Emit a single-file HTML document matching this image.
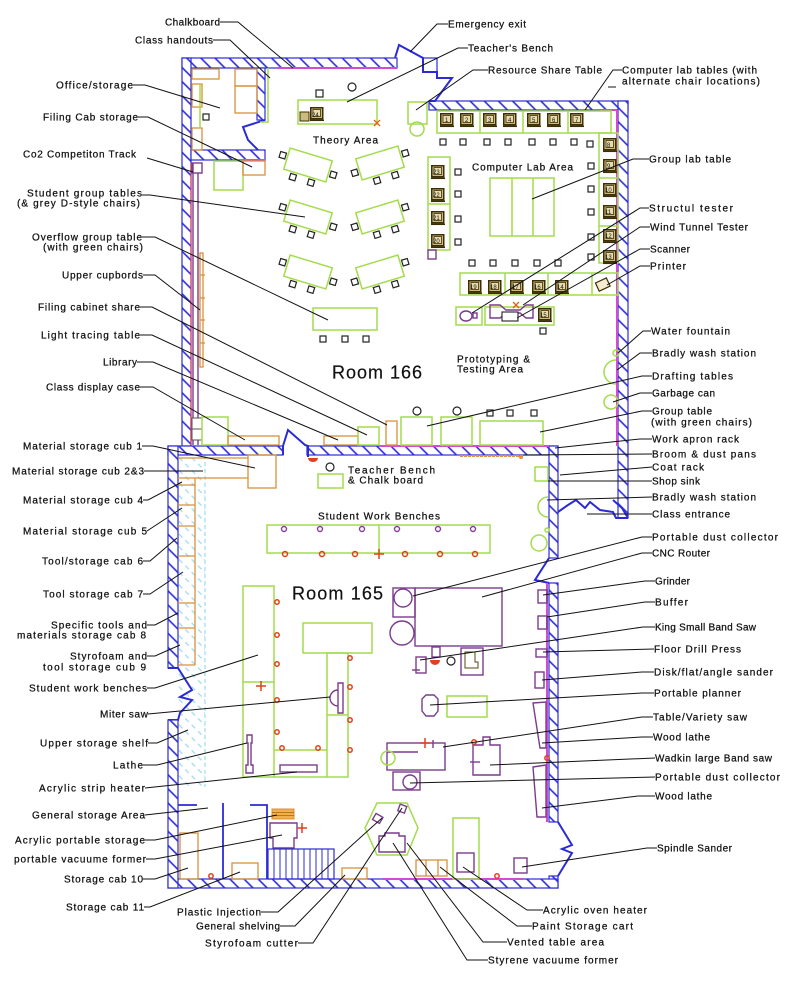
<!DOCTYPE html>
<html><head><meta charset="utf-8"><style>
html,body{margin:0;padding:0;background:#fff;}
svg{display:block;}
text{font-family:"Liberation Sans",sans-serif;font-size:10px;fill:#111;stroke:#111;stroke-width:0.25;}
.g{fill:none;stroke:#a3dc4c;stroke-width:1.5}
.o{fill:none;stroke:#d8913a;stroke-width:1.3}
.p{fill:none;stroke:#7b3c8c;stroke-width:1.4}
.w{fill:url(#h);stroke:#2b2bd6;stroke-width:1.2}
.b{fill:none;stroke:#2b2bd6;stroke-width:2}
.m{fill:none;stroke:#d24bd2;stroke-width:2}
.r{fill:none;stroke:#e0401a;stroke-width:1.5}
.k{fill:none;stroke:#222;stroke-width:1.2}
.ld{fill:none;stroke:#111;stroke-width:1}
.n{font-size:6px;stroke-width:0;}
</style></head><body>
<svg width="800" height="1000" viewBox="0 0 800 1000" xmlns="http://www.w3.org/2000/svg">
<defs>
<pattern id="h" width="10" height="10" patternUnits="userSpaceOnUse" patternTransform="rotate(-45)"><rect width="10" height="10" fill="#fff"/><line x1="1" y1="0" x2="1" y2="10" stroke="#2b2bd6" stroke-width="1.6"/></pattern>
<pattern id="cy" width="9" height="9" patternUnits="userSpaceOnUse" patternTransform="rotate(-45)"><line x1="1" y1="0" x2="1" y2="5" stroke="#9fdcef" stroke-width="1.3"/></pattern>
<g id="pc"><rect x="0.75" y="0.75" width="12" height="11" fill="#cdbb7e" stroke="#3b2f05" stroke-width="1.5"/><rect x="3" y="2.5" width="7.5" height="7" fill="#e8dcae" stroke="#3b2f05" stroke-width="0.8"/><line x1="0" y1="13.3" x2="14" y2="13.3" stroke="#3b2f05" stroke-width="1.5"/></g>
<rect id="ch" width="6" height="6" fill="none" stroke="#222" stroke-width="1.2"/>
</defs>

<rect x="178" y="455" width="27" height="332" fill="url(#cy)"/>
<line x1="205" y1="455" x2="205" y2="787" stroke="#9fdcef" stroke-width="1.2" stroke-dasharray="4,3"/>

<rect class="w" x="182" y="58" width="215" height="10"/>
<rect class="w" x="182" y="58" width="9" height="388"/>
<rect class="w" x="257" y="68" width="8" height="52"/>
<rect class="w" x="191" y="150" width="74" height="10"/>
<polyline class="b" points="265,120 243,127 248,140 258,150"/>
<rect class="w" x="429" y="101" width="199" height="9"/>
<rect class="w" x="618" y="101" width="10" height="417"/>
<rect class="w" x="168" y="446" width="115" height="9"/>
<rect class="w" x="307" y="446" width="251" height="9"/>
<rect class="w" x="549" y="446" width="9" height="112"/>
<polyline class="b" points="549,558 535,580 549,583"/>
<rect class="w" x="549" y="583" width="9" height="239"/>
<polyline class="b" points="558,822 572,845 562,849 572,853 558,876"/>
<rect class="w" x="549" y="876" width="9" height="12"/>
<rect class="w" x="168" y="879" width="390" height="9"/>
<rect class="w" x="168" y="446" width="10" height="222"/>
<polyline class="b" points="168,668 178,668 192,690 180,697 192,700 180,713 178,720 168,720"/>
<rect class="w" x="168" y="720" width="10" height="168"/>
<polyline class="b" points="395,58 399,45 423,58 423,72 437,72 437,78 452,78 435,101 429,101"/>
<rect x="423" y="58" width="14" height="14" fill="none" stroke="#2b2bd6" stroke-width="1.2"/>
<polyline class="b" points="283,455 283,446 288,430 305,445 308,446 308,457"/>
<polyline class="b" points="558,512 568,505 576,500 585,508 590,502 600,510 613,512 616,518 628,518"/>
<polyline class="b" points="613,500 622,508 628,518"/>
<line class="m" x1="277" y1="68" x2="397" y2="68"/>
<line class="m" x1="243" y1="160" x2="265" y2="160"/>
<line class="m" x1="600" y1="110" x2="617" y2="110"/>
<line class="m" x1="617" y1="110" x2="617" y2="446"/>
<line class="m" x1="380" y1="446" x2="549" y2="446"/>
<line class="m" x1="547" y1="583" x2="547" y2="822"/>
<line class="m" x1="383" y1="879" x2="523" y2="879"/>
<line x1="191" y1="163" x2="191" y2="445" stroke="#e04060" stroke-width="1.2"/>

<rect class="o" x="192" y="69" width="27" height="10"/>
<rect class="o" x="235" y="69" width="22" height="17"/>
<rect class="o" x="235" y="86" width="22" height="27"/>
<rect class="o" x="192" y="84" width="10" height="23"/>
<rect class="o" x="192" y="128" width="10" height="22"/>
<line class="g" x1="200" y1="84" x2="200" y2="128"/>
<rect class="k" x="203" y="114" width="6" height="6"/>
<polyline class="g" points="260,122 268,122 268,68"/>
<rect class="g" x="214" y="161" width="29" height="29"/>
<rect class="o" x="243" y="161" width="22" height="14"/>
<line class="p" x1="193" y1="163" x2="193" y2="445"/>
<line class="p" x1="198" y1="173" x2="198" y2="445"/>
<rect class="p" x="192" y="163" width="10" height="10"/>
<rect class="o" x="200" y="253" width="3" height="114"/>
<path class="o" d="M200,275h5M200,298h5M200,320h5M200,343h5"/>
<rect x="192" y="418" width="10" height="22" fill="#fff" stroke="#555" stroke-width="1"/>
<line x1="192" y1="429" x2="202" y2="429" stroke="#555"/>

<rect class="k" x="316" y="90" width="7" height="7"/>
<circle class="k" cx="352" cy="87" r="4"/>
<rect class="g" x="298" y="100" width="79" height="24"/>
<rect x="300" y="112" width="9" height="9" fill="#cdbb7e" stroke="#3b2f05"/>
<use href="#pc" x="310" y="107"/><text class="n" x="312" y="117">24</text>
<path d="M374,120l6,6M380,120l-6,6" stroke="#e0601a" stroke-width="1.3"/>
<g transform="translate(308,165) rotate(17)"><rect class="g" x="-22" y="-11" width="44" height="22"/><use href="#ch" x="-30" y="-5"/><use href="#ch" x="-14" y="13"/><use href="#ch" x="5" y="13"/><use href="#ch" x="24" y="-1"/></g>
<g transform="translate(308,217) rotate(17)"><rect class="g" x="-22" y="-11" width="44" height="22"/><use href="#ch" x="-30" y="-5"/><use href="#ch" x="-14" y="13"/><use href="#ch" x="5" y="13"/><use href="#ch" x="24" y="-1"/></g>
<g transform="translate(308,272) rotate(17)"><rect class="g" x="-22" y="-11" width="44" height="22"/><use href="#ch" x="-30" y="-5"/><use href="#ch" x="-14" y="13"/><use href="#ch" x="5" y="13"/><use href="#ch" x="24" y="-1"/></g>
<g transform="translate(380,163) rotate(-17)"><rect class="g" x="-22" y="-11" width="44" height="22"/><use href="#ch" x="24" y="-5"/><use href="#ch" x="8" y="13"/><use href="#ch" x="-11" y="13"/><use href="#ch" x="-30" y="-1"/></g>
<g transform="translate(380,217) rotate(-17)"><rect class="g" x="-22" y="-11" width="44" height="22"/><use href="#ch" x="24" y="-5"/><use href="#ch" x="8" y="13"/><use href="#ch" x="-11" y="13"/><use href="#ch" x="-30" y="-1"/></g>
<g transform="translate(380,272) rotate(-17)"><rect class="g" x="-22" y="-11" width="44" height="22"/><use href="#ch" x="24" y="-5"/><use href="#ch" x="8" y="13"/><use href="#ch" x="-11" y="13"/><use href="#ch" x="-30" y="-1"/></g>
<rect class="g" x="313" y="308" width="64" height="22"/>
<use href="#ch" x="320" y="336"/><use href="#ch" x="342" y="336"/><use href="#ch" x="363" y="336"/>
<rect class="g" x="408" y="102" width="19" height="22"/>
<circle class="g" cx="417" cy="129" r="7"/>

<rect class="g" x="437" y="111" width="174" height="22"/>
<path class="g" d="M480,111v22M523,111v22M568,111v22"/>
<use href="#pc" x="440" y="113"/><text class="n" x="445" y="122">1</text>
<use href="#pc" x="460" y="113"/><text class="n" x="465" y="122">2</text>
<use href="#pc" x="483" y="113"/><text class="n" x="488" y="122">3</text>
<use href="#pc" x="503" y="113"/><text class="n" x="508" y="122">4</text>
<use href="#pc" x="527" y="113"/><text class="n" x="532" y="122">5</text>
<use href="#pc" x="547" y="113"/><text class="n" x="552" y="122">6</text>
<use href="#pc" x="570" y="113"/><text class="n" x="575" y="122">7</text>
<use href="#ch" x="440" y="139"/><use href="#ch" x="460" y="139"/><use href="#ch" x="484" y="139"/><use href="#ch" x="505" y="139"/><use href="#ch" x="529" y="139"/><use href="#ch" x="550" y="139"/><use href="#ch" x="571" y="139"/><use href="#ch" x="587" y="141"/>
<rect class="g" x="599" y="133" width="19" height="130"/>
<path class="g" d="M599,178h19M599,226h19"/>
<use href="#pc" x="603" y="138"/><text class="n" x="607" y="147">8</text>
<use href="#pc" x="603" y="159"/><text class="n" x="607" y="168">9</text>
<use href="#pc" x="603" y="183"/><text class="n" x="605" y="192">10</text>
<use href="#pc" x="603" y="205"/><text class="n" x="605" y="214">11</text>
<use href="#pc" x="603" y="229"/><text class="n" x="605" y="238">12</text>
<use href="#pc" x="603" y="250"/><text class="n" x="605" y="259">13</text>
<use href="#ch" x="588" y="163"/><use href="#ch" x="588" y="186"/><use href="#ch" x="588" y="209"/><use href="#ch" x="588" y="234"/><use href="#ch" x="588" y="254"/>
<rect class="g" x="428" y="157" width="22" height="93"/>
<path class="g" d="M428,204h22"/>
<use href="#pc" x="431" y="165"/><text class="n" x="433" y="174">23</text>
<use href="#pc" x="431" y="188"/><text class="n" x="433" y="197">22</text>
<use href="#pc" x="431" y="211"/><text class="n" x="433" y="220">21</text>
<use href="#pc" x="431" y="234"/><text class="n" x="433" y="243">20</text>
<rect class="p" x="428" y="250" width="8" height="9"/>
<use href="#ch" x="455" y="169"/><use href="#ch" x="455" y="191"/><use href="#ch" x="455" y="216"/><use href="#ch" x="455" y="239"/>
<rect class="g" x="490" y="178" width="64" height="58"/>
<path class="g" d="M512,178v58M533,178v58"/>
<use href="#ch" x="469" y="260"/><use href="#ch" x="490" y="260"/><use href="#ch" x="512" y="260"/><use href="#ch" x="534" y="260"/><use href="#ch" x="555" y="260"/>
<rect class="g" x="460" y="273" width="158" height="22"/>
<path class="g" d="M505,273v22M548,273v22M592,273v22"/>
<use href="#pc" x="468" y="280"/><text class="n" x="470" y="289">19</text>
<use href="#pc" x="488" y="280"/><text class="n" x="490" y="289">18</text>
<use href="#pc" x="510" y="280"/><text class="n" x="512" y="289">17</text>
<use href="#pc" x="532" y="280"/><text class="n" x="534" y="289">16</text>
<use href="#pc" x="555" y="280"/><text class="n" x="557" y="289">14</text>
<g transform="translate(603,285) rotate(-25)"><rect x="-6" y="-5" width="12" height="9" fill="#f4ecd0" stroke="#3b2f05" stroke-width="1.2"/></g>
<rect class="g" x="456" y="307" width="26" height="18"/>
<ellipse class="p" cx="466" cy="316" rx="6" ry="5"/>
<rect class="p" x="473" y="313" width="4" height="5"/>
<rect class="g" x="485" y="307" width="69" height="18"/>
<path class="p" d="M490,305h10l6,5h14l6,-5h7v13h-7l-6,-5h-14l-6,5h-10z"/>
<rect x="502" y="312" width="16" height="9" fill="#fff" stroke="#222" stroke-width="1.1"/>
<path d="M513,302l6,6M519,302l-6,6" stroke="#e0601a" stroke-width="1.3"/>
<use href="#pc" x="538" y="308"/><text class="n" x="540" y="317">15</text>
<use href="#ch" x="540" y="328"/>
<circle class="g" cx="616" cy="353" r="3"/>
<path class="g" d="M616,360a12,12 0 0 0 0,24"/>
<circle class="g" cx="611" cy="402" r="7"/>
<rect class="g" x="202" y="417" width="26" height="28"/>
<rect class="o" x="228" y="436" width="51" height="9"/>
<rect class="o" x="324" y="436" width="34" height="9"/>
<rect class="g" x="358" y="427" width="21" height="18"/>
<rect class="o" x="386" y="421" width="11" height="24"/>
<rect class="g" x="401" y="417" width="31" height="28"/>
<circle class="k" cx="417" cy="411" r="4"/>
<rect class="g" x="441" y="417" width="31" height="28"/>
<circle class="k" cx="457" cy="411" r="4"/>
<rect class="g" x="480" y="421" width="63" height="24"/>
<use href="#ch" x="487" y="410"/><use href="#ch" x="507" y="410"/><use href="#ch" x="531" y="410"/>
<line x1="460" y1="456" x2="523" y2="456" stroke="#e8902a" stroke-width="2" stroke-dasharray="3,1"/>
<circle cx="521" cy="457" r="2" fill="#e8902a"/>
<path d="M308,458a5,4 0 0 0 10,0z" fill="#e0401a"/>

<rect class="o" x="248" y="455" width="28" height="33"/>
<path class="o" d="M178,458H248M178,478H248M195,478V665"/>
<path class="o" d="M178,485H195M178,505H195M178,526H195M178,556H195M178,603H195M178,628H195M178,665H195"/>
<circle class="k" cx="330" cy="467" r="4"/>
<rect class="g" x="318" y="474" width="25" height="14"/>
<rect class="g" x="535" y="467" width="13" height="14"/>
<path class="g" d="M548,497a10,10 0 0 0 0,20"/>
<circle class="g" cx="539" cy="543" r="8"/>
<circle class="g" cx="547" cy="530" r="2"/>
<rect class="g" x="267" y="525" width="223" height="28"/>
<line class="g" x1="379" y1="525" x2="379" y2="553"/>
<g fill="none" stroke="#8a3ca0" stroke-width="1.4"><circle cx="284" cy="529" r="2.5"/><circle cx="320" cy="529" r="2.5"/><circle cx="362" cy="529" r="2.5"/><circle cx="397" cy="529" r="2.5"/><circle cx="438" cy="529" r="2.5"/><circle cx="473" cy="529" r="2.5"/></g>
<g class="r"><circle cx="285" cy="554" r="2.5"/><circle cx="322" cy="554" r="2.5"/><circle cx="355" cy="554" r="2.5"/><circle cx="405" cy="554" r="2.5"/><circle cx="440" cy="554" r="2.5"/><circle cx="475" cy="554" r="2.5"/></g>
<path d="M379,549v10M374,554h10" stroke="#e0401a" stroke-width="1.5"/>
<rect class="g" x="243" y="586" width="31" height="191"/>
<line class="g" x1="243" y1="682" x2="274" y2="682"/>
<rect class="g" x="303" y="623" width="69" height="30"/>
<rect class="g" x="327" y="653" width="21" height="124"/>
<path class="g" d="M274,750H327M274,777H327M327,715H348"/>
<g class="r"><circle cx="277" cy="602" r="2.2"/><circle cx="277" cy="635" r="2.2"/><circle cx="277" cy="664" r="2.2"/><circle cx="277" cy="700" r="2.2"/><circle cx="277" cy="732" r="2.2"/><circle cx="350" cy="658" r="2.2"/><circle cx="350" cy="687" r="2.2"/><circle cx="350" cy="720" r="2.2"/><circle cx="350" cy="750" r="2.2"/><circle cx="282" cy="748" r="2.2"/><circle cx="318" cy="748" r="2.2"/></g>
<path d="M261,681v10M256,686h10" stroke="#e0401a" stroke-width="1.5"/>
<path class="p" d="M338,683h5v30h-5zM338,690a8,8 0 0 0 0,16"/>
<path class="p" d="M247,735h5v8h-1v22h2v8h-7v-8h2v-22h-1z"/>
<rect class="p" x="280" y="765" width="37" height="7"/>
<rect class="p" x="415" y="588" width="87" height="58"/>
<rect class="p" x="393" y="588" width="22" height="29"/>
<circle class="p" cx="403" cy="598" r="9"/>
<circle class="p" cx="402" cy="633" r="12"/>
<rect class="p" x="416" y="657" width="10" height="16"/>
<line class="p" x1="412" y1="670" x2="420" y2="670"/>
<rect class="p" x="432" y="647" width="8" height="10"/>
<path d="M430,660a5,5 0 0 0 10,0z" fill="#e0401a"/>
<circle class="k" cx="451" cy="661" r="4"/>
<rect class="p" x="461" y="648" width="22" height="27"/>
<path d="M465,652h10v10h3v6h-13z" fill="none" stroke="#5a4a10" stroke-width="1"/>
<path class="p" d="M426,695h8l4,4v12l-4,5h-8l-4,-5v-12z"/>
<rect class="g" x="447" y="696" width="40" height="21"/>
<rect class="p" x="387" y="743" width="58" height="27"/>
<line class="p" x1="387" y1="752" x2="418" y2="752"/>
<path d="M425,738v10M420,743h10" stroke="#e0401a" stroke-width="1.5"/>
<line x1="433" y1="740" x2="433" y2="748" stroke="#7b3c8c" stroke-width="1.4"/>
<circle class="g" cx="388" cy="758" r="7"/>
<path class="p" d="M473,745h10v-8h7v8h10v30h-27z"/>
<line class="p" x1="470" y1="762" x2="480" y2="762"/>
<circle class="r" cx="474" cy="742" r="2.2"/>
<rect class="p" x="393" y="772" width="27" height="18"/>
<circle class="p" cx="410" cy="782" r="7"/>
<rect class="p" x="538" y="590" width="9" height="13"/>
<rect class="p" x="538" y="616" width="9" height="13"/>
<rect class="p" x="536" y="649" width="11" height="8"/>
<rect class="p" x="535" y="672" width="9" height="16"/>
<polygon class="p" points="533,703 546,702 546,748 540,748"/>
<polygon class="p" points="533,767 546,765 546,817 537,817"/>
<circle class="r" cx="547" cy="758" r="2.2"/>
<rect class="p" x="514" y="858" width="13" height="15"/>
<path class="b" d="M178,805h19M223,803v76M250,805h17v74" style="stroke-width:1.8"/>
<rect class="o" x="180" y="833" width="18" height="46"/>
<rect class="o" x="232" y="863" width="26" height="16"/>
<circle class="r" cx="211" cy="876" r="2.2"/>
<rect x="272" y="809" width="22" height="10" fill="#f0b050" stroke="#d8913a"/>
<path d="M272,812.5h22M272,815.5h22" stroke="#a8650a" stroke-width="0.8"/>
<path class="p" d="M270,823h27v15h-3v10h-21v-10h-3z"/>
<path d="M302,823v10M297,828h10" stroke="#e0401a" stroke-width="1.5"/>
<rect x="268" y="849" width="66" height="30" fill="none" stroke="#2b2bd6" stroke-width="1.2"/>
<path d="M274,849v30M280,849v30M286,849v30M292,849v30M298,849v30M304,849v30M310,849v30M316,849v30M322,849v30M328,849v30" stroke="#2b2bd6" stroke-width="1"/>
<rect class="o" x="342" y="868" width="25" height="11"/>
<polygon class="g" points="365,828 377,803 407,803 418,828 407,855 377,855"/>
<rect class="p" x="374" y="815" width="8" height="7" transform="rotate(30 378 818)"/>
<rect class="p" x="399" y="805" width="7" height="7" transform="rotate(20 402 808)"/>
<path class="p" d="M379,836h6v-3h14v3h6v16h-26z"/>
<rect class="o" x="416" y="860" width="31" height="16"/>
<path class="o" d="M426,860v16M438,860v16"/>
<rect class="g" x="453" y="818" width="26" height="61"/>
<rect class="p" x="457" y="853" width="17" height="19"/>
<circle class="r" cx="497" cy="876" r="2.2"/>

<text x="332" y="378.5" style="font-size:18px;stroke-width:0.2" textLength="90" lengthAdjust="spacing">Room 166</text>
<text x="292" y="599.5" style="font-size:18px;stroke-width:0.2" textLength="91" lengthAdjust="spacing">Room 165</text>
<text x="313" y="143.5" textLength="65" lengthAdjust="spacing">Theory Area</text>
<text x="472" y="170.5" textLength="101" lengthAdjust="spacing">Computer Lab Area</text>
<text x="457" y="362.5" textLength="73" lengthAdjust="spacing">Prototyping &amp;</text>
<text x="457" y="372.5" textLength="66" lengthAdjust="spacing">Testing Area</text>
<text x="348" y="473.5" textLength="87" lengthAdjust="spacing">Teacher Bench</text>
<text x="348" y="483.5" textLength="75" lengthAdjust="spacing">&amp; Chalk board</text>
<text x="318" y="519.5" textLength="122" lengthAdjust="spacing">Student Work Benches</text>

<path class="ld" d="
M220,22H238L293,68
M213,40H230L270,78
M133,85H145L220,108
M138,117H148L252,167
M147,158L193,172
M142,195H150L305,217
M142,237H155L328,320
M143,275H155L200,310
M140,307H152L387,425
M140,335H152L367,435
M137,362H153L338,440
M140,387H153L245,440
M142,446H153L255,468
M144,471H203
M143,500H148L182,482
M147,531L182,508
M143,561H150L177,538
M143,594H150L183,572
M147,625H155L178,613
M147,656H155L180,645
M147,688H155L258,655
M148,714L330,697
M148,743H157L188,730
M143,765H157L247,743
M145,788L297,772
M145,815L208,808
M145,840H155L277,815
M146,859H155L282,835
M143,879H155L188,868
M144,907H150L240,872
M261,912H278L382,818
M280,926H295L345,875
M298,943H313L402,808
M543,910H527L463,867
M532,926H517L440,867
M507,942H483L407,843
M488,960H467L393,843
M448,24H437L410,52
M468,48H458L347,102
M488,70H473L416,110
M622,70H613L585,110
M608,87H616
M649,159H633L532,199
M649,208H640L472,313
M650,227H640L523,305
M650,249H640L517,318
M650,266H640L607,285
M651,331H643L618,353
M652,353H640L617,370
M652,376H642L427,426
M652,393H640L613,402
M652,411H642L540,432
M652,439H640L555,448
M652,454L523,455
M652,467L560,475
M652,481H548
M652,497L547,500
M652,514H587
M652,537H642L413,596
M652,553H642L482,597
M655,581H645L543,595
M655,602H645L547,617
M655,627H643L420,660
M654,649L543,652
M654,672H642L542,680
M654,693H642L430,705
M653,717H642L443,747
M653,737H642L542,743
M655,758L490,765
M655,777L410,783
M655,796H638L542,808
M657,848H647L522,867
"/>

<text x="165" y="25.5" textLength="55" lengthAdjust="spacing">Chalkboard</text>
<text x="135" y="43.5" textLength="78" lengthAdjust="spacing">Class handouts</text>
<text x="56" y="88.5" textLength="77" lengthAdjust="spacing">Office/storage</text>
<text x="43" y="120.5" textLength="95" lengthAdjust="spacing">Filing Cab storage</text>
<text x="23" y="157.5" textLength="113" lengthAdjust="spacing">Co2 Competiton Track</text>
<text x="27" y="196.5" textLength="115" lengthAdjust="spacing">Student group tables</text>
<text x="17" y="206.5" textLength="123" lengthAdjust="spacing">(&amp; grey D-style chairs)</text>
<text x="32" y="240.5" textLength="110" lengthAdjust="spacing">Overflow group table</text>
<text x="43" y="250.5" textLength="100" lengthAdjust="spacing">(with green chairs)</text>
<text x="62" y="278.5" textLength="81" lengthAdjust="spacing">Upper cupbords</text>
<text x="38" y="310.5" textLength="102" lengthAdjust="spacing">Filing cabinet share</text>
<text x="41" y="338.5" textLength="99" lengthAdjust="spacing">Light tracing table</text>
<text x="103" y="365.5" textLength="34" lengthAdjust="spacing">Library</text>
<text x="46" y="390.5" textLength="94" lengthAdjust="spacing">Class display case</text>
<text x="23" y="449.5" textLength="119" lengthAdjust="spacing">Material storage cub 1</text>
<text x="12" y="474.5" textLength="132" lengthAdjust="spacing">Material storage cub 2&amp;3</text>
<text x="23" y="503.5" textLength="120" lengthAdjust="spacing">Material storage cub 4</text>
<text x="23" y="534.5" textLength="124" lengthAdjust="spacing">Material storage cub 5</text>
<text x="42" y="564.5" textLength="101" lengthAdjust="spacing">Tool/storage cab 6</text>
<text x="43" y="597.5" textLength="100" lengthAdjust="spacing">Tool storage cab 7</text>
<text x="51" y="628.5" textLength="96" lengthAdjust="spacing">Specific tools and</text>
<text x="17" y="638.5" textLength="129" lengthAdjust="spacing">materials storage cab 8</text>
<text x="70" y="659.5" textLength="77" lengthAdjust="spacing">Styrofoam and</text>
<text x="43" y="670.5" textLength="103" lengthAdjust="spacing">tool storage cub 9</text>
<text x="29" y="691.5" textLength="118" lengthAdjust="spacing">Student work benches</text>
<text x="100" y="717.5" textLength="48" lengthAdjust="spacing">Miter saw</text>
<text x="40" y="746.5" textLength="108" lengthAdjust="spacing">Upper storage shelf</text>
<text x="113" y="768.5" textLength="30" lengthAdjust="spacing">Lathe</text>
<text x="39" y="791.5" textLength="106" lengthAdjust="spacing">Acrylic strip heater</text>
<text x="32" y="818.5" textLength="113" lengthAdjust="spacing">General storage Area</text>
<text x="15" y="843.5" textLength="130" lengthAdjust="spacing">Acrylic portable storage</text>
<text x="14" y="862.5" textLength="132" lengthAdjust="spacing">portable vacuume former</text>
<text x="64" y="882.5" textLength="79" lengthAdjust="spacing">Storage cab 10</text>
<text x="66" y="910.5" textLength="78" lengthAdjust="spacing">Storage cab 11</text>
<text x="177" y="915.5" textLength="84" lengthAdjust="spacing">Plastic Injection</text>
<text x="196" y="929.5" textLength="84" lengthAdjust="spacing">General shelving</text>
<text x="205" y="946.5" textLength="93" lengthAdjust="spacing">Styrofoam cutter</text>
<text x="543" y="913.5" textLength="104" lengthAdjust="spacing">Acrylic oven heater</text>
<text x="532" y="929.5" textLength="101" lengthAdjust="spacing">Paint Storage cart</text>
<text x="507" y="945.5" textLength="97" lengthAdjust="spacing">Vented table area</text>
<text x="488" y="963.5" textLength="130" lengthAdjust="spacing">Styrene vacuume former</text>

<text x="448" y="27.5" textLength="78" lengthAdjust="spacing">Emergency exit</text>
<text x="468" y="51.5" textLength="85" lengthAdjust="spacing">Teacher's Bench</text>
<text x="488" y="73.5" textLength="114" lengthAdjust="spacing">Resource Share Table</text>
<text x="622" y="73.5" textLength="135" lengthAdjust="spacing">Computer lab tables (with</text>
<text x="622" y="84.5" textLength="138" lengthAdjust="spacing">alternate chair locations)</text>
<text x="649" y="162.5" textLength="82" lengthAdjust="spacing">Group lab table</text>
<text x="649" y="211.5" textLength="84" lengthAdjust="spacing">Structul tester</text>
<text x="650" y="230.5" textLength="98" lengthAdjust="spacing">Wind Tunnel Tester</text>
<text x="650" y="252.5" textLength="40" lengthAdjust="spacing">Scanner</text>
<text x="650" y="269.5" textLength="36" lengthAdjust="spacing">Printer</text>
<text x="651" y="334.5" textLength="79" lengthAdjust="spacing">Water fountain</text>
<text x="652" y="356.5" textLength="104" lengthAdjust="spacing">Bradly wash station</text>
<text x="652" y="379.5" textLength="81" lengthAdjust="spacing">Drafting tables</text>
<text x="652" y="396.5" textLength="63" lengthAdjust="spacing">Garbage can</text>
<text x="652" y="414.5" textLength="60" lengthAdjust="spacing">Group table</text>
<text x="651" y="425.5" textLength="101" lengthAdjust="spacing">(with green chairs)</text>
<text x="652" y="442.5" textLength="87" lengthAdjust="spacing">Work apron rack</text>
<text x="652" y="457.5" textLength="104" lengthAdjust="spacing">Broom  &amp; dust pans</text>
<text x="652" y="470.5" textLength="52" lengthAdjust="spacing">Coat rack</text>
<text x="652" y="484.5" textLength="48" lengthAdjust="spacing">Shop sink</text>
<text x="652" y="500.5" textLength="104" lengthAdjust="spacing">Bradly wash station</text>
<text x="652" y="517.5" textLength="78" lengthAdjust="spacing">Class entrance</text>
<text x="652" y="540.5" textLength="126" lengthAdjust="spacing">Portable dust collector</text>
<text x="652" y="556.5" textLength="58" lengthAdjust="spacing">CNC Router</text>
<text x="655" y="584.5" textLength="35" lengthAdjust="spacing">Grinder</text>
<text x="655" y="605.5" textLength="33" lengthAdjust="spacing">Buffer</text>
<text x="655" y="630.5" textLength="101" lengthAdjust="spacing">King Small Band Saw</text>
<text x="654" y="652.5" textLength="87" lengthAdjust="spacing">Floor Drill Press</text>
<text x="654" y="675.5" textLength="119" lengthAdjust="spacing">Disk/flat/angle sander</text>
<text x="654" y="696.5" textLength="87" lengthAdjust="spacing">Portable planner</text>
<text x="653" y="720.5" textLength="94" lengthAdjust="spacing">Table/Variety saw</text>
<text x="653" y="740.5" textLength="57" lengthAdjust="spacing">Wood lathe</text>
<text x="655" y="761.5" textLength="117" lengthAdjust="spacing">Wadkin large Band saw</text>
<text x="655" y="780.5" textLength="125" lengthAdjust="spacing">Portable dust collector</text>
<text x="655" y="799.5" textLength="57" lengthAdjust="spacing">Wood lathe</text>
<text x="657" y="851.5" textLength="75" lengthAdjust="spacing">Spindle Sander</text>
</svg>
</body></html>
